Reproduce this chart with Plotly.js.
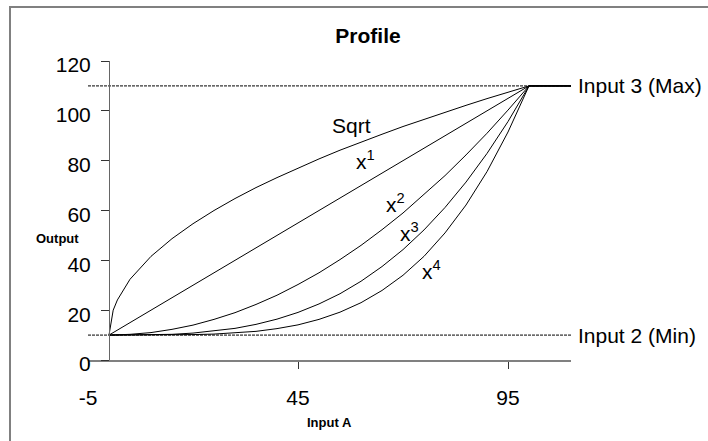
<!DOCTYPE html>
<html>
<head>
<meta charset="utf-8">
<script src="https://cdn.plot.ly/plotly-3.0.1.min.js"></script>
<style>html,body{margin:0;padding:0;background:#fff;}#chart{width:708px;height:441px;}</style>
</head>
<body>
<div id="chart"></div>
<script>
// Input A values (x)
const inputA = [0,1,2,5,10,15,20,25,30,35,40,45,50,55,60,65,70,75,80,85,90,95,100,110];
// Output values
const sqrtY = [10,20,24.1,32.4,41.6,48.7,54.7,60,64.8,69.2,73.2,77.1,80.7,84.2,87.5,90.6,93.7,96.6,99.4,102.2,104.9,107.5,110,110];
const x1Y   = [10,11,12,15,20,25,30,35,40,45,50,55,60,65,70,75,80,85,90,95,100,105,110,110];
const x2Y   = [10,10,10,10.3,11,12.3,14,16.3,19,22.3,26,30.3,35,40.3,46,52.3,59,66.3,74,82.3,91,100.3,110,110];
const x3Y   = [10,10,10,10,10.1,10.3,10.8,11.6,12.7,14.3,16.4,19.1,22.5,26.6,31.6,37.5,44.3,52.2,61.2,71.4,82.9,95.7,110,110];
const x4Y   = [10,10,10,10,10,10.1,10.2,10.4,10.8,11.5,12.6,14.1,16.3,19.2,23,27.9,34,41.6,51,62.2,75.6,91.5,110,110];
// Limit lines
const limitX = [-5,110];
const maxY = [110,110];
const minY = [10,10];
const seriesNames = ["Sqrt","x<sup>1</sup>","x<sup>2</sup>","x<sup>3</sup>","x<sup>4</sup>"];
const limitNames = ["Input 3 (Max)","Input 2 (Min)"];
const yTicks = [0,20,40,60,80,100,120];
const xTicks = [-5,45,95];
const xTickText = ["-5","45","95"];

const FONT = "Liberation Sans, Arial, sans-serif";
const FS = 21;
const curveLine = {color:"#000", width:1};
const limLine = {color:"#000", width:1, dash:"3px,1px"};

const traces = [
  {x:limitX, y:maxY, mode:"lines", line:limLine, name:limitNames[0]},
  {x:limitX, y:minY, mode:"lines", line:limLine, name:limitNames[1]},
  {x:inputA, y:sqrtY, mode:"lines", line:curveLine, name:seriesNames[0]},
  {x:inputA, y:x1Y, mode:"lines", line:curveLine, name:seriesNames[1]},
  {x:inputA, y:x2Y, mode:"lines", line:curveLine, name:seriesNames[2]},
  {x:inputA, y:x3Y, mode:"lines", line:curveLine, name:seriesNames[3]},
  {x:inputA, y:x4Y, mode:"lines", line:curveLine, name:seriesNames[4]}
];

const lab = (text, x, y) => ({text, x, y, xref:"x", yref:"y", showarrow:false,
  xanchor:"center", yanchor:"middle", font:{family:FONT, size:FS, color:"#000"}});

const layout = {
  width:708, height:441,
  margin:{l:88, r:137, t:61, b:81, pad:0},
  paper_bgcolor:"#fff", plot_bgcolor:"#fff",
  showlegend:false,
  font:{family:FONT, size:FS, color:"#000"},
  title:{text:"<b>Profile</b>", x:368/708, xref:"container", xanchor:"center",
         y:1-36/441, yref:"container", yanchor:"middle",
         font:{family:FONT, size:21, color:"#000"}},
  xaxis:{range:[-5,110], tickvals:xTicks, ticktext:xTickText, showgrid:false, zeroline:false,
         showline:true, linecolor:"#808080", linewidth:2,
         ticks:"outside", ticklen:7, tickcolor:"#333", tickwidth:1,
         tickfont:{family:FONT, size:FS, color:"#000"}, ticklabelstandoff:11},
  yaxis:{range:[0,120], tickvals:yTicks, showgrid:false, zeroline:false,
         anchor:"free", position:5/115,
         showline:true, linecolor:"#666", linewidth:1,
         ticks:"outside", ticklen:8, tickcolor:"#333", tickwidth:1,
         tickfont:{family:FONT, size:FS, color:"#000"}, ticklabelstandoff:6, ticklabelshift:4},
  annotations:[
    lab(seriesNames[0], 57.8, 94.0),
    lab(seriesNames[1], 61.1, 80.3),
    lab(seriesNames[2], 68.3, 63.1),
    lab(seriesNames[3], 71.6, 51.4),
    lab(seriesNames[4], 76.7, 36.1),
    {text:limitNames[0], x:110, y:110, xref:"x", yref:"y", showarrow:false, xanchor:"left", yanchor:"middle", xshift:5,
     font:{family:FONT, size:FS, color:"#000"}},
    {text:limitNames[1], x:110, y:10, xref:"x", yref:"y", showarrow:false, xanchor:"left", yanchor:"middle", xshift:5,
     font:{family:FONT, size:FS, color:"#000"}},
    {text:"<b>Output</b>", x:(57-88)/483, y:(360-238)/299, xref:"paper", yref:"paper", showarrow:false,
     xanchor:"center", yanchor:"middle", font:{family:FONT, size:13, color:"#000"}},
    {text:"<b>Input A</b>", x:0.5, y:(360-422)/299, xref:"paper", yref:"paper", showarrow:false,
     xanchor:"center", yanchor:"middle", font:{family:FONT, size:13, color:"#000"}}
  ],
  shapes:[
    {type:"rect", xref:"paper", yref:"paper", x0:(10-88)/483, x1:(720-88)/483, y0:(360-460)/299, y1:(360-7)/299,
     line:{color:"#808080", width:2}, fillcolor:"rgba(0,0,0,0)", layer:"below"}
  ]
};

Plotly.newPlot("chart", traces, layout, {staticPlot:true, displayModeBar:false});
</script>
</body>
</html>
